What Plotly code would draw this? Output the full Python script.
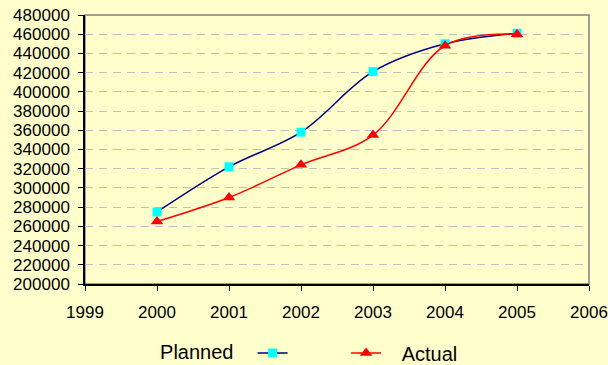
import plotly.graph_objects as go

years = [2000, 2001, 2002, 2003, 2004, 2005]
planned = [275000, 322000, 358000, 421000, 450000, 461000]
actual = [265000, 290000, 324000, 355000, 448000, 460000]
y_ticks = list(range(200000, 480001, 20000))
x_ticks = list(range(1999, 2007))

FONT = "Arial, Liberation Sans, sans-serif"
BG = "#FFFFCC"

fig = go.Figure()
fig.add_trace(go.Scatter(
    x=years, y=planned, name=" ", mode="lines+markers",
    line=dict(color="#000080", width=1.5, shape="spline"),
    marker=dict(symbol="square", size=9, color="#00FFFF"),
    legend="legend",
))
fig.add_trace(go.Scatter(
    x=years, y=actual, name="   Actual", mode="lines+markers",
    line=dict(color="#FF0000", width=1.5, shape="spline"),
    marker=dict(symbol="triangle-up", size=11, color="#FF0000"),
    legend="legend2",
))

fig.update_layout(
    width=608, height=365,
    margin=dict(l=85, r=19, t=15, b=81, autoexpand=False),
    paper_bgcolor=BG, plot_bgcolor=BG,
    font=dict(family=FONT, size=17, color="#000000"),
    showlegend=True,
    legend=dict(
        title=dict(text="Planned  ", side="left", font=dict(size=20)),
        orientation="h", x=0.145, y=-0.2565, xanchor="left", yanchor="middle",
        bgcolor="rgba(0,0,0,0)", font=dict(size=20),
    ),
    legend2=dict(
        orientation="h", x=0.518, y=-0.2565, xanchor="left", yanchor="middle",
        bgcolor="rgba(0,0,0,0)", font=dict(size=20),
    ),
    shapes=[dict(type="rect", xref="paper", yref="paper", x0=0, y0=0, x1=1, y1=1,
                 line=dict(color="#808080", width=1.5), layer="below")],
)
fig.update_xaxes(
    range=[1999, 2006], tickvals=x_ticks, ticktext=[str(v) for v in x_ticks],
    showgrid=False, zeroline=False, automargin=False,
    showline=True, linecolor="#000000", linewidth=1.5,
    ticks="outside", ticklen=5, tickcolor="#000000",
    tickfont=dict(size=17), ticklabelstandoff=7,
)
fig.update_yaxes(
    range=[200000, 480000], tickvals=y_ticks, ticktext=[str(v) for v in y_ticks],
    showgrid=True, gridcolor="#C0C0C0", griddash="8px,6px", gridwidth=1,
    zeroline=False, automargin=False,
    showline=True, linecolor="#000000", linewidth=1.5,
    ticks="outside", ticklen=5, tickcolor="#000000",
    tickfont=dict(size=17), ticklabelstandoff=5,
)

fig.write_html("out.html")
